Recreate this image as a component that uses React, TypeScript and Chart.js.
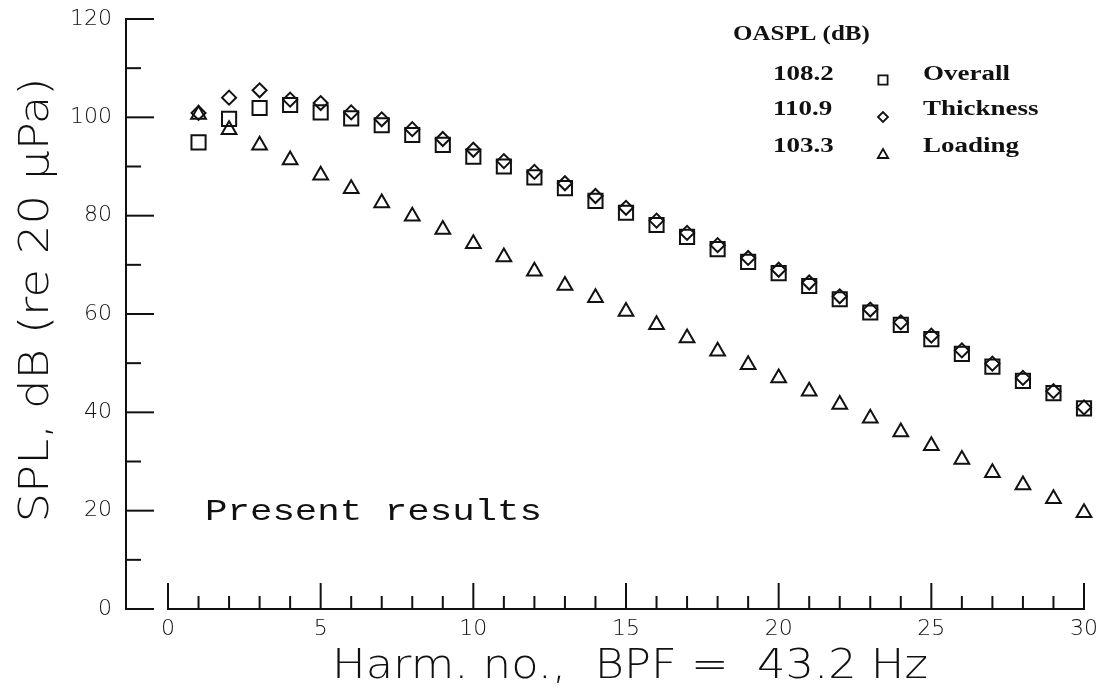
import React, { useEffect, useRef } from 'react';
import { Chart, registerables } from 'chart.js';

Chart.register(...registerables);

// ---- data ----
const harmonics = [1, 2, 3, 4, 5, 6, 7, 8, 9, 10, 11, 12, 13, 14, 15, 16, 17, 18, 19, 20, 21, 22, 23, 24, 25, 26, 27, 28, 29, 30];
const overallSPL = [94.9, 99.7, 101.9, 102.5, 101.0, 99.8, 98.4, 96.4, 94.4, 92.0, 90.0, 87.8, 85.6, 83.0, 80.6, 78.1, 75.7, 73.2, 70.6, 68.3, 65.7, 63.0, 60.3, 57.8, 54.9, 51.9, 49.3, 46.4, 43.9, 40.8];
const thicknessSPL = [100.9, 104.0, 105.5, 103.6, 102.9, 101.0, 99.6, 97.6, 95.6, 93.4, 91.1, 88.9, 86.6, 84.0, 81.6, 79.0, 76.5, 74.0, 71.4, 69.0, 66.4, 63.6, 60.9, 58.3, 55.6, 52.6, 49.9, 47.0, 44.3, 41.0];
const loadingSPL = [100.6, 97.5, 94.3, 91.3, 88.2, 85.5, 82.6, 79.9, 77.2, 74.3, 71.6, 68.7, 65.8, 63.3, 60.5, 57.8, 55.1, 52.4, 49.7, 47.0, 44.3, 41.6, 38.8, 36.0, 33.2, 30.4, 27.7, 25.2, 22.4, 19.6];

const xTickValues = [0, 5, 10, 15, 20, 25, 30];
const yTickValues = [0, 20, 40, 60, 80, 100, 120];

const legendHeading = 'OASPL (dB)';
const legendValues = ['108.2', '110.9', '103.3'];
const legendNames = ['Overall', 'Thickness', 'Loading'];
const legendShapes = ['rect', 'rectRot', 'triangle'];

const yTitle = 'SPL, dB (re 20 μPa)';
const xTitle = 'Harm. no.,  BPF =  43.2 Hz';
const noteText = 'Present results';

const INK = '#111';
const THIN_SANS = '"DejaVu Sans", "Liberation Sans", sans-serif';

function toPoints(vals: number[]) {
  return harmonics.map((h, i) => ({ x: h, y: vals[i] }));
}

function stretchedText(
  ctx: CanvasRenderingContext2D,
  text: string,
  font: string,
  x: number,
  y: number,
  opts: { width?: number; factor?: number; align?: CanvasTextAlign; rotate?: number }
) {
  ctx.save();
  ctx.font = font;
  ctx.fillStyle = INK;
  ctx.textBaseline = 'middle';
  const w = ctx.measureText(text).width;
  const s = opts.width ? opts.width / w : opts.factor || 1;
  ctx.translate(x, y);
  if (opts.rotate) ctx.rotate(opts.rotate);
  ctx.scale(s, 1);
  ctx.textAlign = opts.align || 'center';
  ctx.fillText(text, 0, 0);
  ctx.restore();
}

function drawMarker(ctx: CanvasRenderingContext2D, shape: string, x: number, y: number, r: number) {
  ctx.beginPath();
  if (shape === 'rect') {
    const s = r * Math.SQRT1_2;
    ctx.rect(x - s, y - s, 2 * s, 2 * s);
  } else if (shape === 'rectRot') {
    ctx.moveTo(x - r, y);
    ctx.lineTo(x, y - r);
    ctx.lineTo(x + r, y);
    ctx.lineTo(x, y + r);
    ctx.closePath();
  } else {
    const a = (2 * Math.PI) / 3;
    ctx.moveTo(x, y - r);
    ctx.lineTo(x + Math.sin(a) * r, y - Math.cos(a) * r);
    ctx.lineTo(x + Math.sin(2 * a) * r, y - Math.cos(2 * a) * r);
    ctx.closePath();
  }
  ctx.stroke();
}

const plotterPlugin = {
  id: 'plotterDecor',
  afterDraw(chart: any) {
    const ctx: CanvasRenderingContext2D = chart.ctx;
    const xs = chart.scales.x;
    const ys = chart.scales.y;
    ctx.save();
    ctx.strokeStyle = INK;
    ctx.lineWidth = 2;
    ctx.lineCap = 'butt';

    // y axis (offset to the left of the x-axis start)
    const yAxisX = xs.left - 42;
    const y0 = ys.getPixelForValue(ys.min);
    const yTop = ys.getPixelForValue(ys.max);
    ctx.beginPath();
    ctx.moveTo(yAxisX, yTop - 1);
    ctx.lineTo(yAxisX, y0 + 1);
    ctx.stroke();
    for (let v = ys.min; v <= ys.max; v += 10) {
      const py = ys.getPixelForValue(v);
      const len = v % 20 === 0 ? 28 : 15;
      ctx.beginPath();
      ctx.moveTo(yAxisX, py);
      ctx.lineTo(yAxisX + len, py);
      ctx.stroke();
    }

    // x axis
    const xBase = y0;
    ctx.beginPath();
    ctx.moveTo(xs.getPixelForValue(xs.min) - 1, xBase);
    ctx.lineTo(xs.getPixelForValue(xs.max) + 1, xBase);
    ctx.stroke();
    for (let k = xs.min; k <= xs.max; k += 1) {
      const px = xs.getPixelForValue(k);
      const len = k % 5 === 0 ? 26 : 13;
      ctx.beginPath();
      ctx.moveTo(px, xBase);
      ctx.lineTo(px, xBase - len);
      ctx.stroke();
    }

    // axis titles
    stretchedText(ctx, yTitle, '200 40px ' + THIN_SANS, 38, 300, { width: 445, rotate: -Math.PI / 2 });
    stretchedText(ctx, xTitle, '200 40px ' + THIN_SANS, 630, 668, { width: 596 });

    // note
    stretchedText(ctx, noteText, '29px "Liberation Mono"', 205, 512, { width: 337, align: 'left' });

    // legend
    const serif = 'bold 20px "Liberation Serif"';
    stretchedText(ctx, legendHeading, serif, 733, 35, { factor: 1.25, align: 'left' });
    const rowsY = [75, 110, 147];
    const markY = [80, 117, 155];
    const markR = [6.5, 5, 6];
    ctx.lineWidth = 1.8;
    for (let i = 0; i < legendNames.length; i++) {
      stretchedText(ctx, legendValues[i], serif, 773, rowsY[i], { factor: 1.35, align: 'left' });
      stretchedText(ctx, legendNames[i], serif, 923, rowsY[i], { factor: 1.35, align: 'left' });
      drawMarker(ctx, legendShapes[i], 883, markY[i], markR[i]);
    }
    ctx.restore();
  },
};

export default function App() {
  const canvasRef = useRef<HTMLCanvasElement | null>(null);

  useEffect(() => {
    const canvas = canvasRef.current;
    if (!canvas) return;
    const tickFont = { family: THIN_SANS, size: 22, weight: '200' as any };
    const common = {
      showLine: false,
      clip: false as const,
      pointBorderColor: INK,
      pointBackgroundColor: 'rgba(0,0,0,0)',
      pointBorderWidth: 2,
    };
    const chart = new Chart(canvas, {
      type: 'scatter',
      data: {
        datasets: [
          { ...common, label: 'Loading', data: toPoints(loadingSPL), pointStyle: 'triangle', pointRadius: 8.5 },
          { ...common, label: 'Thickness', data: toPoints(thicknessSPL), pointStyle: 'rectRot', pointRadius: 7 },
          { ...common, label: 'Overall', data: toPoints(overallSPL), pointStyle: 'rect', pointRadius: 10 },
        ],
      },
      options: {
        animation: false,
        responsive: false,
        devicePixelRatio: 1,
        layout: { padding: { top: 19, right: 25, left: 0, bottom: 0 } },
        plugins: {
          legend: { display: false },
          tooltip: { enabled: false },
          title: { display: false },
        },
        scales: {
          x: {
            type: 'linear',
            position: 'bottom',
            min: 0,
            max: 30,
            afterFit: (s: any) => {
              s.height = 80;
            },
            afterBuildTicks: (s: any) => {
              s.ticks = xTickValues.map((v) => ({ value: v }));
            },
            grid: { display: false, drawTicks: false },
            border: { display: false },
            ticks: { padding: 7, color: INK, font: tickFont, maxRotation: 0, autoSkip: false },
          },
          y: {
            type: 'linear',
            position: 'left',
            weight: 2,
            min: 0,
            max: 120,
            afterFit: (s: any) => {
              s.width = 116;
            },
            afterBuildTicks: (s: any) => {
              s.ticks = yTickValues.map((v) => ({ value: v }));
            },
            grid: { display: false, drawTicks: false },
            border: { display: false },
            ticks: { padding: 4, color: INK, font: tickFont, autoSkip: false },
          },
          gap: {
            type: 'linear',
            position: 'left',
            weight: 0,
            min: 0,
            max: 1,
            afterFit: (s: any) => {
              s.width = 52;
            },
            grid: { display: false, drawTicks: false },
            border: { display: false },
            ticks: { display: false },
          },
        },
      },
      plugins: [plotterPlugin],
    });
    return () => chart.destroy();
  }, []);

  return (
    <div style={{ position: 'fixed', left: 0, top: 0, width: 1109, height: 689, background: '#fff' }}>
      <canvas ref={canvasRef} width={1109} height={689} style={{ display: 'block', width: 1109, height: 689 }} />
    </div>
  );
}
